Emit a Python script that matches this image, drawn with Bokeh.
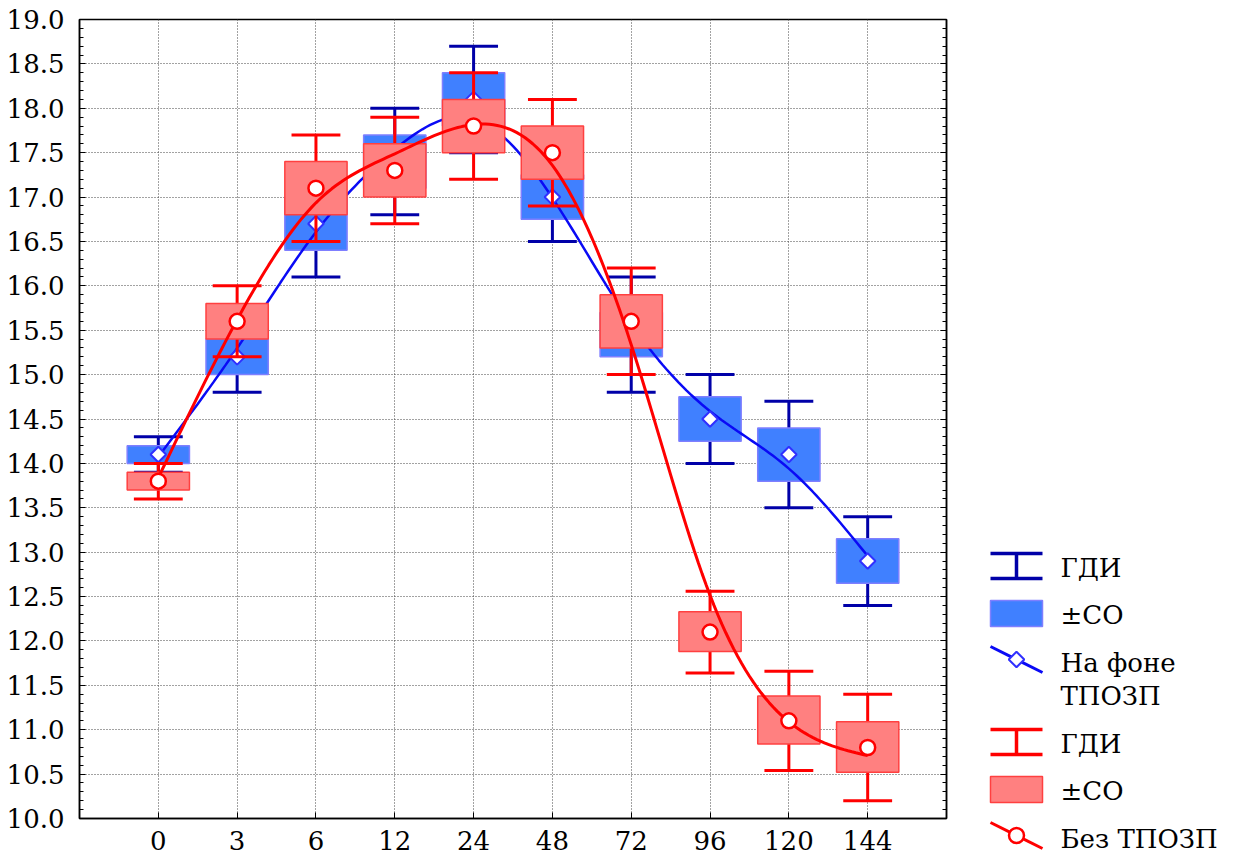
import numpy as np
from bokeh.plotting import figure
from bokeh.models import (Range1d, SingleIntervalTicker, FixedTicker, LinearAxis,
                          PrintfTickFormatter, CustomJSTickFormatter)
from bokeh.layouts import row
from bokeh.embed import file_html
from bokeh.resources import INLINE
from bokeh.core.properties import value

# ---------------- data ----------------
categories = ["0", "3", "6", "12", "24", "48", "72", "96", "120", "144"]

blue_mean = [14.1, 15.2, 16.7, 17.4, 18.1, 17.0, 15.45, 14.5, 14.1, 12.9]
blue_box_lo = [14.0, 15.0, 16.4, 17.1, 17.8, 16.75, 15.2, 14.25, 13.8, 12.65]
blue_box_hi = [14.2, 15.4, 17.0, 17.7, 18.4, 17.25, 15.7, 14.75, 14.4, 13.15]
blue_ci_lo = [13.9, 14.8, 16.1, 16.8, 17.5, 16.5, 14.8, 14.0, 13.5, 12.4]
blue_ci_hi = [14.3, 15.6, 17.3, 18.0, 18.7, 17.5, 16.1, 15.0, 14.7, 13.4]

red_mean = [13.8, 15.6, 17.1, 17.3, 17.8, 17.5, 15.6, 12.1, 11.1, 10.8]
red_box_lo = [13.7, 15.4, 16.8, 17.0, 17.5, 17.2, 15.3, 11.88, 10.84, 10.52]
red_box_hi = [13.9, 15.8, 17.4, 17.6, 18.1, 17.8, 15.9, 12.33, 11.38, 11.09]
red_ci_lo = [13.6, 15.2, 16.5, 16.7, 17.2, 16.9, 15.0, 11.64, 10.54, 10.2]
red_ci_hi = [14.0, 16.0, 17.7, 17.9, 18.4, 18.1, 16.2, 12.56, 11.66, 11.4]

blue_legend = ["ГДИ", "±СО", "На фоне", "ТПОЗП"]
red_legend = ["ГДИ", "±СО", "Без ТПОЗП"]

# ---------------- styles ----------------
FONT = "DejaVu Serif"
FS = "26px"
BLUE_FILL, BLUE_EDGE, BLUE_WHISK, BLUE_LINE = "#4080FF", "#7F7FFF", "#0000A8", "#0A0AF5"
RED_FILL, RED_EDGE, RED_WHISK, RED_LINE = "#FF8080", "#FF4040", "#FF0000", "#FF0000"
BOX_W = 0.79
CAP_HALF = 0.31


def smooth_curve(y, lam=0.09, sub=20):
    """Discrete smoothing spline through the means (for drawing only)."""
    y = np.asarray(y, float)
    n = len(y)
    N = (n - 1) * sub + 1
    h = 1.0 / sub
    xs = np.linspace(0, n - 1, N)
    S = np.zeros((n, N))
    S[np.arange(n), np.arange(n) * sub] = 1.0
    D = np.zeros((N - 2, N))
    for i in range(N - 2):
        D[i, i], D[i, i + 1], D[i, i + 2] = 1.0, -2.0, 1.0
    D /= h * h
    A = S.T @ S + lam * h * (D.T @ D)
    f = np.linalg.solve(A, S.T @ y)
    return xs, f


x = np.arange(len(categories))

p = figure(width=956, height=861, x_range=Range1d(-1, 10), y_range=Range1d(10, 19),
           output_backend="svg", toolbar_location=None,
           min_border_left=79, min_border_top=19, min_border_right=10, min_border_bottom=43)
p.frame_align = False
p.background_fill_color = "white"
p.border_fill_color = "white"
p.outline_line_color = "black"
p.outline_line_width = 1.5

# axes
p.yaxis.ticker = SingleIntervalTicker(interval=0.5, num_minor_ticks=5)
p.yaxis.formatter = PrintfTickFormatter(format="%.1f")
p.xaxis.ticker = FixedTicker(ticks=list(range(len(categories))))
p.xaxis.major_label_overrides = {i: c for i, c in enumerate(categories)}
for ax in (p.xaxis[0], p.yaxis[0]):
    ax.axis_line_color = "black"
    ax.axis_line_width = 1.5
    ax.major_tick_in = 6
    ax.major_tick_out = 0
    ax.minor_tick_in = 4
    ax.minor_tick_out = 0
    ax.major_tick_line_color = "black"
    ax.minor_tick_line_color = "black"
    ax.major_label_text_font = FONT
    ax.major_label_text_font_size = FS
    ax.major_label_text_color = "black"
p.xaxis.minor_tick_line_color = None
p.xaxis.major_label_standoff = 12
p.yaxis.major_label_standoff = 15

rax = LinearAxis(ticker=SingleIntervalTicker(interval=0.5, num_minor_ticks=5),
                 formatter=CustomJSTickFormatter(code="return ''"),
                 major_label_text_color=None, major_label_standoff=0,
                 major_tick_in=6, major_tick_out=0, minor_tick_in=4, minor_tick_out=0,
                 axis_line_width=1.5, axis_line_color="black")
p.add_layout(rax, "right")

for g in (p.xgrid[0], p.ygrid[0]):
    g.grid_line_color = "#444444"
    g.grid_line_dash = "1 2"
    g.grid_line_width = 1

# ---- blue series (На фоне ТПОЗП)
p.segment(x, blue_ci_lo, x, blue_ci_hi, line_color=BLUE_WHISK, line_width=3)
p.segment(x - CAP_HALF, blue_ci_lo, x + CAP_HALF, blue_ci_lo, line_color=BLUE_WHISK, line_width=3)
p.segment(x - CAP_HALF, blue_ci_hi, x + CAP_HALF, blue_ci_hi, line_color=BLUE_WHISK, line_width=3)
p.vbar(x=x, width=BOX_W, bottom=blue_box_lo, top=blue_box_hi,
       fill_color=BLUE_FILL, line_color=BLUE_EDGE, line_width=1.5)
bx, by = smooth_curve(blue_mean)
p.line(bx, by, line_color=BLUE_LINE, line_width=2.5)
p.scatter(x, blue_mean, marker="square", size=11, angle=np.pi / 4, fill_color="white",
          line_color="#3030FF", line_width=2)

# ---- red series (Без ТПОЗП)
p.segment(x, red_ci_lo, x, red_ci_hi, line_color=RED_WHISK, line_width=3)
p.segment(x - CAP_HALF, red_ci_lo, x + CAP_HALF, red_ci_lo, line_color=RED_WHISK, line_width=3)
p.segment(x - CAP_HALF, red_ci_hi, x + CAP_HALF, red_ci_hi, line_color=RED_WHISK, line_width=3)
p.vbar(x=x, width=BOX_W, bottom=red_box_lo, top=red_box_hi,
       fill_color=RED_FILL, line_color=RED_EDGE, line_width=1.5)
rx, ry = smooth_curve(red_mean)
p.line(rx, ry, line_color=RED_LINE, line_width=3)
p.scatter(x, red_mean, marker="circle", size=15, fill_color="white",
          line_color=RED_LINE, line_width=2.5)

# ---------------- legend panel ----------------
leg = figure(width=278, height=861, x_range=Range1d(0, 278), y_range=Range1d(861, 0),
             output_backend="svg", toolbar_location=None,
             x_axis_location=None, y_axis_location=None, min_border=0)
leg.frame_align = False
leg.outline_line_color = None
leg.xgrid.visible = False
leg.ygrid.visible = False

ix0, ix1, ixc, tx = 34, 86, 60, 104
for off, whisk, fill, edge, line_c, is_blue, lab in (
        (0, BLUE_WHISK, BLUE_FILL, BLUE_EDGE, BLUE_LINE, True, blue_legend),
        (176, RED_WHISK, RED_FILL, RED_EDGE, RED_LINE, False, red_legend)):
    top = 553 + off
    # whisker icon
    leg.segment([ix0, ix0, ixc], [top, top + 25, top],
                [ix1, ix1, ixc], [top, top + 25, top + 25],
                line_color=whisk, line_width=3.5)
    # box icon
    leg.quad(left=[ix0], right=[ix1], top=[top + 47], bottom=[top + 73],
             fill_color=fill, line_color=edge, line_width=1.5)
    # line + marker icon
    leg.segment([ix0], [top + 93], [ix1], [top + 119], line_color=line_c, line_width=3)
    if is_blue:
        leg.scatter([ixc], [top + 106], marker="square", size=11, angle=np.pi / 4,
                    fill_color="white", line_color="#3030FF", line_width=2)
    else:
        leg.scatter([ixc], [top + 106], marker="circle", size=15,
                    fill_color="white", line_color=line_c, line_width=2.5)
    ys = [top + 14, top + 61, top + 109, top + 142][:len(lab)]
    leg.text(x=[tx] * len(lab), y=ys, text=lab, text_font=value(FONT),
             text_font_size=FS, text_baseline="middle", text_align="left",
             text_color="black")

layout = row(p, leg)
open("out.html", "w").write(file_html(layout, INLINE))
